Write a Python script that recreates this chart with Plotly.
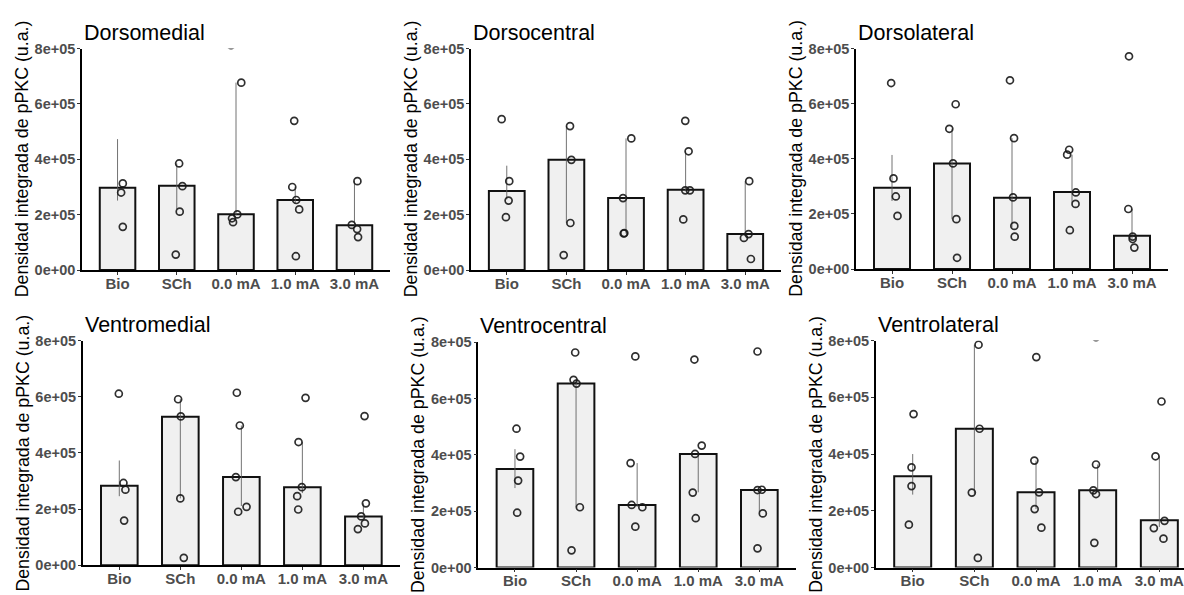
import plotly.graph_objects as go

# ---------------- data ----------------
CATEGORIES = ["Bio", "SCh", "0.0 mA", "1.0 mA", "3.0 mA"]
Y_TICKVALS = [0, 200000, 400000, 600000, 800000]
Y_TICKTEXT = ["0e+00", "2e+05", "4e+05", "6e+05", "8e+05"]
Y_TITLE = "Densidad integrada de pPKC (u.a.)"
PANEL_TITLES = ["Dorsomedial", "Dorsocentral", "Dorsolateral",
                "Ventromedial", "Ventrocentral", "Ventrolateral"]

# Dorsomedial
DM_MEAN = [297500, 304500, 201500, 253000, 161600]
DM_LO = [251000, 220000, 198000, 240000, 155000]
DM_HI = [473000, 385000, 677000, 300000, 321000]
DM_PTS = [[313000, 280000, 156000],
          [385000, 303000, 211000, 56000],
          [677000, 201000, 187000, 173000, 812000],
          [539000, 300000, 253000, 219000, 50000],
          [321000, 163000, 148000, 119000]]
DM_JIT = [[0.089, 0.061, 0.089],
          [0.04, 0.095, 0.05, -0.017],
          [0.089, 0.022, -0.067, -0.05, -0.084],
          [-0.017, -0.05, 0.017, 0.067, 0.011],
          [0.05, -0.045, 0.045, 0.061]]

# Dorsocentral
DC_MEAN = [285800, 398000, 260000, 290500, 130000]
DC_LO = [255000, 170000, 132000, 285000, 125000]
DC_HI = [377000, 520000, 475500, 429000, 321000]
DC_PTS = [[545000, 321000, 251000, 191000],
          [520000, 398000, 170000, 54000],
          [475500, 260000, 133500, 132000],
          [539000, 429000, 288000, 288000, 183000],
          [321000, 130000, 116000, 40000]]
DC_JIT = [[-0.086, 0.042, 0.031, -0.014],
          [0.061, 0.084, 0.067, -0.045],
          [0.089, -0.05, -0.028, -0.039],
          [-0.006, 0.05, -0.006, 0.072, -0.039],
          [0.067, 0.056, -0.022, 0.095]]

# Dorsolateral
DL_MEAN = [295000, 383500, 259000, 280000, 121000]
DL_LO = [247000, 181000, 150000, 241000, 110000]
DL_HI = [414000, 509000, 475000, 415000, 218000]
DL_PTS = [[675000, 329000, 263500, 193000],
          [598000, 509000, 383500, 181000, 41000],
          [685000, 475000, 260000, 156500, 117600],
          [433000, 415000, 278000, 236500, 141000],
          [772000, 218000, 118000, 109000, 78000]]
DL_JIT = [[-0.014, 0.025, 0.064, 0.092],
          [0.061, -0.045, 0.017, 0.073, 0.084],
          [-0.034, 0.034, 0.017, 0.039, 0.045],
          [-0.047, -0.081, 0.064, 0.059, -0.036],
          [-0.05, -0.061, 0.011, 0.011, 0.039]]

# Ventromedial
VM_MEAN = [283000, 528700, 314000, 278000, 174000]
VM_LO = [246000, 238000, 211000, 257000, 170000]
VM_HI = [373000, 591000, 497500, 438700, 220500]
VM_PTS = [[610700, 293000, 269000, 159000],
          [591000, 530000, 238000, 26500],
          [614000, 497500, 314000, 208000, 190500],
          [596000, 438700, 278000, 246000, 198600],
          [531000, 220500, 174000, 149000, 129000]]
VM_JIT = [[-0.008, 0.068, 0.1, 0.079],
          [-0.036, 0.008, 0.0, 0.057],
          [-0.074, -0.025, -0.09, 0.085, -0.052],
          [0.052, -0.063, -0.008, -0.085, -0.068],
          [0.019, 0.041, -0.036, 0.025, -0.09]]

# Ventrocentral
VC_MEAN = [350000, 652600, 222000, 403000, 275000]
VC_LO = [282000, 214000, 215000, 267000, 195700]
VC_HI = [420000, 667600, 370600, 410000, 276000]
VC_PTS = [[492600, 393600, 308500, 194500],
          [763000, 666000, 652600, 214000, 61000],
          [749000, 370600, 222000, 214000, 145000],
          [738000, 432800, 403000, 266000, 175000],
          [766600, 275000, 276000, 192000, 68000]]
VC_JIT = [[0.025, 0.085, 0.052, 0.036],
          [-0.014, -0.041, 0.008, 0.063, -0.074],
          [-0.03, -0.107, -0.09, 0.085, -0.03],
          [-0.063, 0.057, -0.052, -0.09, -0.041],
          [-0.03, -0.03, 0.041, 0.057, -0.03]]

# Ventrolateral
VL_MEAN = [322000, 489000, 265000, 272000, 167000]
VL_LO = [257000, 260000, 206000, 265000, 143000]
VL_HI = [400000, 785000, 377000, 363000, 392000]
VL_PTS = [[540600, 353000, 287000, 151000],
          [785000, 489000, 264000, 34000],
          [741700, 377000, 265000, 206000, 140600],
          [812000, 363000, 272000, 259000, 87000],
          [585000, 392000, 164600, 139000, 101700]]
VL_JIT = [[0.014, -0.019, -0.019, -0.062],
          [0.068, 0.084, -0.041, 0.057],
          [0.005, -0.027, 0.049, -0.022, 0.087],
          [-0.027, -0.027, -0.07, -0.027, -0.054],
          [0.035, -0.062, 0.084, -0.089, 0.067]]

PANELS = [
    (DM_MEAN, DM_LO, DM_HI, DM_PTS, DM_JIT),
    (DC_MEAN, DC_LO, DC_HI, DC_PTS, DC_JIT),
    (DL_MEAN, DL_LO, DL_HI, DL_PTS, DL_JIT),
    (VM_MEAN, VM_LO, VM_HI, VM_PTS, VM_JIT),
    (VC_MEAN, VC_LO, VC_HI, VC_PTS, VC_JIT),
    (VL_MEAN, VL_LO, VL_HI, VL_PTS, VL_JIT),
]

# ---------------- layout geometry (pixels) ----------------
W, H = 1184, 595
# (left, right, top, bottom) of each plotting area
BOXES = [
    (82, 390, 41.7, 269.3),
    (471, 781, 41.7, 269.3),
    (856, 1168, 41.7, 268.3),
    (82.7, 400, 341.7, 572.7),
    (478.3, 796, 343.3, 575),
    (875.7, 1184, 341.7, 575),
]
XRANGES = [[-0.6, 4.6]] * 5 + [[-0.6, 4.4]]

FONT = "Liberation Sans, Arial, sans-serif"
TICK_COLOR = "#4D4D4D"

fig = go.Figure()
layout = dict(
    width=W, height=H, margin=dict(l=0, r=0, t=0, b=0),
    paper_bgcolor="white", plot_bgcolor="white", showlegend=False,
    font=dict(family=FONT), annotations=[],
)

xidx = list(range(len(CATEGORIES)))

for k, (means, lo, hi, pts, jit) in enumerate(PANELS):
    n = k + 1
    xa = "x" if n == 1 else f"x{n}"
    ya = "y" if n == 1 else f"y{n}"

    # bars
    fig.add_trace(go.Bar(
        x=xidx, y=means, width=0.6, xaxis=xa, yaxis=ya,
        marker=dict(color="#F0F0F0", line=dict(color="#111111", width=2)),
        hoverinfo="skip",
    ))
    # range lines
    lx, ly = [], []
    for i in xidx:
        lx += [i, i, None]
        ly += [lo[i], hi[i], None]
    fig.add_trace(go.Scatter(
        x=lx, y=ly, mode="lines", xaxis=xa, yaxis=ya,
        line=dict(color="rgba(90,90,90,0.85)", width=1), hoverinfo="skip",
    ))
    # points
    px, py = [], []
    for i in xidx:
        for v, j in zip(pts[i], jit[i]):
            px.append(i + j)
            py.append(v)
    fig.add_trace(go.Scatter(
        x=px, y=py, mode="markers", xaxis=xa, yaxis=ya, cliponaxis=True,
        marker=dict(symbol="circle-open", size=7, color="rgba(25,25,25,0.9)",
                    line=dict(width=1.7)),
        hoverinfo="skip",
    ))

    left, right, top, bottom = BOXES[k]
    xkey = "xaxis" if n == 1 else f"xaxis{n}"
    ykey = "yaxis" if n == 1 else f"yaxis{n}"
    layout[xkey] = dict(
        domain=[left / W, min(right / W, 1.0)], anchor=ya, range=XRANGES[k],
        tickvals=xidx, ticktext=CATEGORIES, showgrid=False, zeroline=False,
        showline=True, linecolor="black", linewidth=1.5,
        ticks="outside", ticklen=3, tickwidth=1, tickcolor="#333333",
        ticklabelstandoff=-4, ticklabeloverflow="allow",
        tickfont=dict(family=FONT, size=15, color=TICK_COLOR, weight="bold"),
        fixedrange=True,
    )
    layout[ykey] = dict(
        domain=[1 - bottom / H, 1 - top / H], anchor=xa, range=[0, 800000],
        tickvals=Y_TICKVALS, ticktext=Y_TICKTEXT, showgrid=False, zeroline=False,
        showline=True, linecolor="black", linewidth=1.5,
        ticks="outside", ticklen=3, tickwidth=1, tickcolor="#333333",
        ticklabelstandoff=-1, ticklabeloverflow="allow",
        tickfont=dict(family=FONT, size=14.5, color=TICK_COLOR, weight="bold"),
        fixedrange=True,
    )
    # panel title
    layout["annotations"].append(dict(
        text=PANEL_TITLES[k], xref="paper", yref="paper",
        x=left / W, y=1 - (top - 16) / H, xanchor="left", yanchor="middle",
        showarrow=False, font=dict(family=FONT, size=21.5, color="black"),
    ))
    # y-axis title
    layout["annotations"].append(dict(
        text=Y_TITLE, xref="paper", yref="paper", textangle=-90,
        x=(left - 60) / W, y=1 - ((top + bottom) / 2) / H,
        xanchor="center", yanchor="middle", showarrow=False,
        font=dict(family=FONT, size=17.8, color="black"),
    ))

fig.update_layout(**layout)
fig.write_html(
    "out.html",
    config={"displayModeBar": False},
    post_script="document.body.style.margin='0';document.body.style.overflow='hidden';",
)
